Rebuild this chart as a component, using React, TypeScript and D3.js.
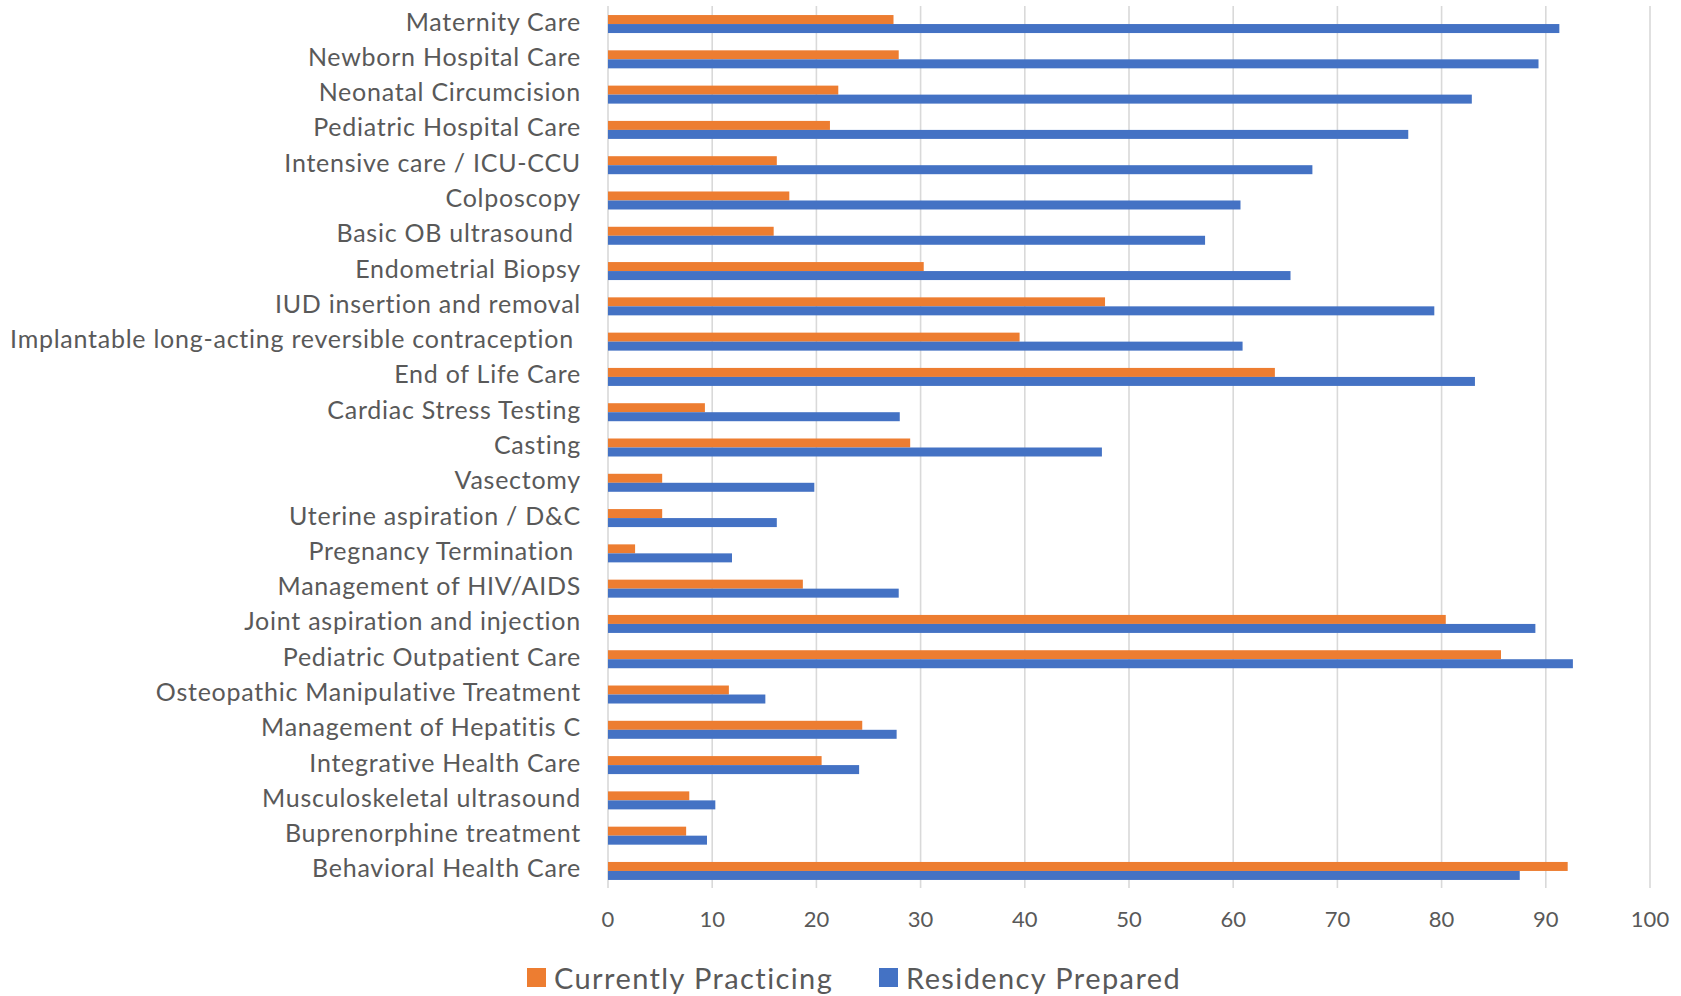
import React from "react";
import * as d3 from "d3";

const categories = [
  "Maternity Care",
  "Newborn Hospital Care",
  "Neonatal Circumcision",
  "Pediatric Hospital Care",
  "Intensive care / ICU-CCU",
  "Colposcopy",
  "Basic OB ultrasound ",
  "Endometrial Biopsy",
  "IUD insertion and removal",
  "Implantable long-acting reversible contraception ",
  "End of Life Care",
  "Cardiac Stress Testing",
  "Casting",
  "Vasectomy",
  "Uterine aspiration / D&C",
  "Pregnancy Termination ",
  "Management of HIV/AIDS",
  "Joint aspiration and injection",
  "Pediatric Outpatient Care",
  "Osteopathic Manipulative Treatment",
  "Management of Hepatitis C",
  "Integrative Health Care",
  "Musculoskeletal ultrasound",
  "Buprenorphine treatment",
  "Behavioral Health Care",
];

const currentlyPracticing = [
  27.4, 27.9, 22.1, 21.3, 16.2, 17.4, 15.9, 30.3, 47.7, 39.5, 64.0, 9.3, 29.0,
  5.2, 5.2, 2.6, 18.7, 80.4, 85.7, 11.6, 24.4, 20.5, 7.8, 7.5, 92.1,
];

const residencyPrepared = [
  91.3, 89.3, 82.9, 76.8, 67.6, 60.7, 57.3, 65.5, 79.3, 60.9, 83.2, 28.0, 47.4,
  19.8, 16.2, 11.9, 27.9, 89.0, 92.6, 15.1, 27.7, 24.1, 10.3, 9.5, 87.5,
];

const seriesNames = ["Currently Practicing", "Residency Prepared"];
const seriesColors = ["#ED7D31", "#4472C4"];
const xTicks = [0, 10, 20, 30, 40, 50, 60, 70, 80, 90, 100];

const W = 1681;
const H = 996;
const FONT = "Lato, 'Open Sans', sans-serif";
const TEXT = "#595959";

export default function App() {
  const x = d3.scaleLinear().domain([0, 100]).range([608, 1650]);
  const y = d3
    .scaleBand<string>()
    .domain(categories)
    .range([6.4, 888.6])
    .paddingInner(0.49)
    .paddingOuter(0.245);
  const inner = d3
    .scaleBand<string>()
    .domain(seriesNames)
    .range([0, y.bandwidth()]);
  const seriesValues = [currentlyPracticing, residencyPrepared];

  return (
    <>
      <style>{`body{margin:0;}`}</style>
      <svg width={W} height={H} style={{ display: "block", background: "#fff" }}>
        {/* gridlines */}
        {xTicks.map((t) => (
          <line
            key={"g" + t}
            x1={x(t)}
            x2={x(t)}
            y1={6}
            y2={888}
            stroke="#d9d9d9"
            strokeWidth={1.6}
          />
        ))}
        {/* bars */}
        {seriesNames.map((s, si) =>
          categories.map((c, ci) => (
            <rect
              key={s + c}
              x={x(0)}
              y={(y(c) as number) + (inner(s) as number)}
              width={x(seriesValues[si][ci]) - x(0)}
              height={inner.bandwidth()}
              fill={seriesColors[si]}
            />
          ))
        )}
        {/* category labels */}
        {categories.map((c) => (
          <text
            key={"l" + c}
            x={581}
            y={(y(c) as number) + y.bandwidth() / 2 - 3.5}
            textAnchor="end"
            dominantBaseline="central"
            fontFamily={FONT}
            fontSize={25}
            letterSpacing={0.75}
            fill={TEXT}
            style={{ whiteSpace: "pre" }}
          >
            {c}
          </text>
        ))}
        {/* tick labels */}
        {xTicks.map((t) => (
          <text
            key={"t" + t}
            x={x(t)}
            y={918}
            textAnchor="middle"
            dominantBaseline="central"
            fontFamily={FONT}
            fontSize={22}
            fill={TEXT}
          >
            {t}
          </text>
        ))}
        {/* legend */}
        {seriesNames.map((s, i) => {
          const lx = i === 0 ? 527 : 879;
          return (
            <g key={"lg" + s}>
              <rect x={lx} y={968} width={19} height={19} fill={seriesColors[i]} />
              <text
                x={lx + 27}
                y={977}
                dominantBaseline="central"
                fontFamily={FONT}
                fontSize={29}
                letterSpacing={1.4}
                fill={TEXT}
              >
                {s}
              </text>
            </g>
          );
        })}
      </svg>
    </>
  );
}
